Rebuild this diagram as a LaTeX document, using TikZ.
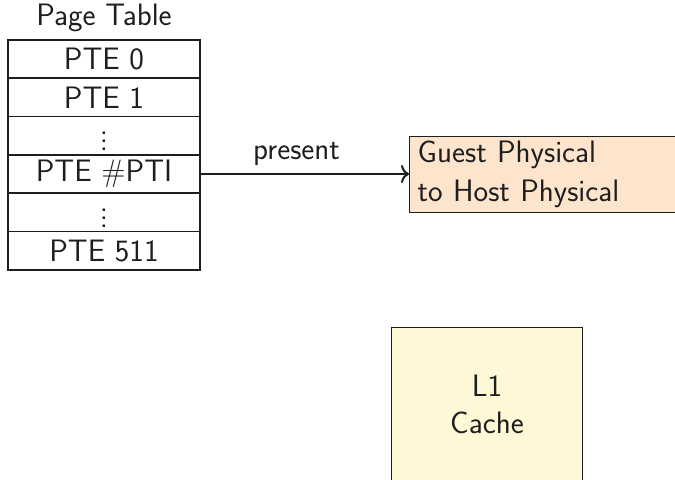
\documentclass[tikz,border=0pt]{standalone}
\usepackage{tikz}
\usetikzlibrary{arrows.meta}
\definecolor{ink}{HTML}{1E1E1E}
\definecolor{peach}{HTML}{FDE5CD}
\definecolor{cream}{HTML}{FFF8D7}
\tikzset{
  base/.style={font=\sffamily\fontsize{15.5}{19.5}\selectfont, text=ink},
  row/.style={base, draw=ink, line width=0.7pt, minimum width=96pt, minimum height=19.2pt, inner sep=0pt, anchor=center},
  arr/.style={draw=ink, line width=1pt, -{To[length=4pt,width=9pt]}},
}
\begin{document}
\begin{tikzpicture}[x=0.5pt,y=-0.5pt]
\useasboundingbox (0,0) rectangle (675,479);
\clip (0,0) rectangle (675,479);
\node[base] (title) at (104,18) {Page Table};
\node[row] (r0) at (104,59) {PTE 0};
\node[row] (r1) at (104,97.3) {PTE 1};
\node[row] (r2) at (104,135.6) {$\vdots$};
\node[row] (r3) at (104,174) {PTE \#PTI};
\node[row] (r4) at (104,212.3) {$\vdots$};
\node[row] (r5) at (104,250.6) {PTE 511};
\node[base, draw=ink, fill=peach, line width=0.7pt, anchor=north west, minimum width=170pt, minimum height=38pt, inner sep=0pt, text width=165pt, align=left, inner xsep=4pt] (gp) at (409,136) {Guest Physical\\to Host Physical};
\coordinate (gpin) at (409,174);
\draw[arr] (r3.east) -- node[base, above=0.5pt, pos=0.46] (lbl) {present} (gpin);
\node[base, draw=ink, fill=cream, line width=0.7pt, anchor=north west, minimum width=95.5pt, minimum height=100pt] (l1) at (391,327) {};
\node[base, align=center, font=\sffamily\fontsize{15.5}{18.5}\selectfont] (l1t) at (487,404.5) {L1\\Cache};
\end{tikzpicture}
\end{document}
